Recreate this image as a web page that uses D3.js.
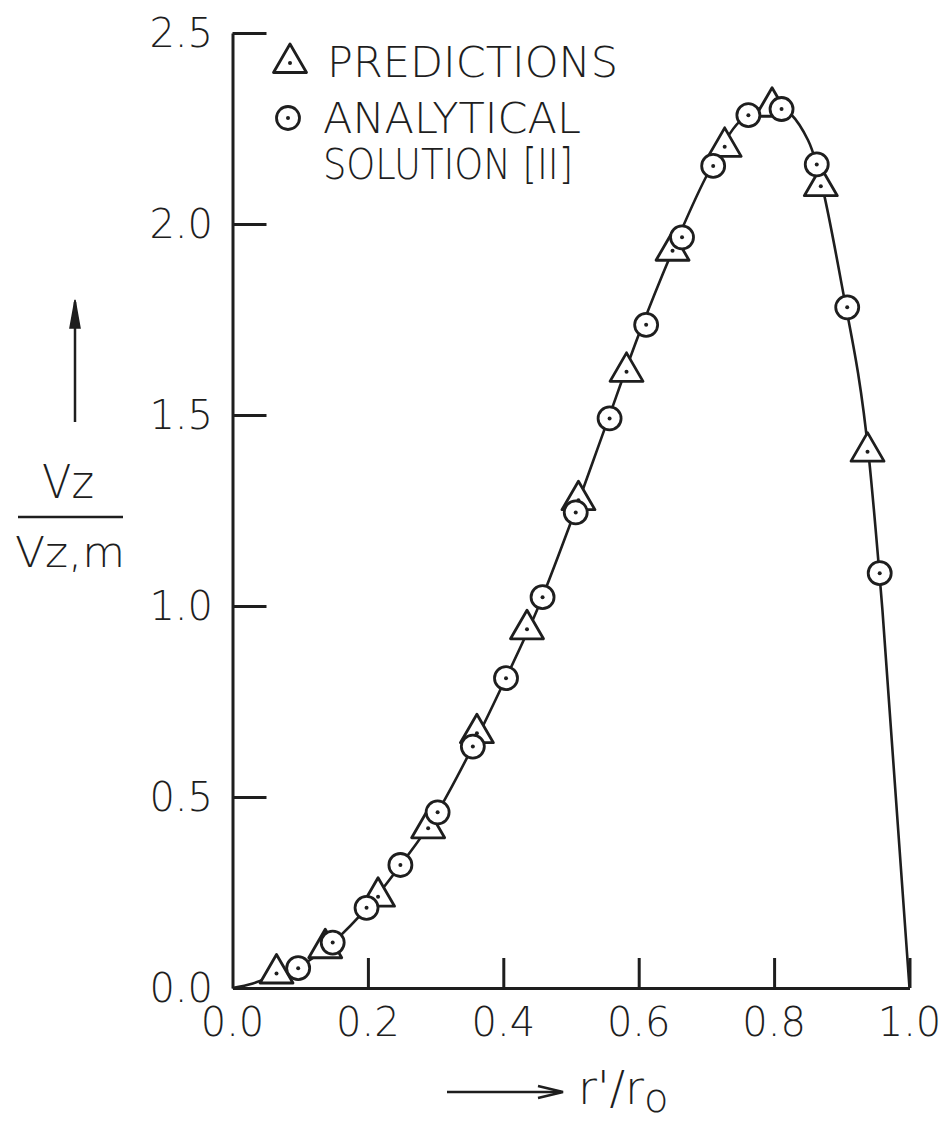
<!DOCTYPE html>
<html>
<head>
<meta charset="utf-8">
<script src="https://cdn.jsdelivr.net/npm/d3@7"></script>
<style>
  body { margin: 0; background: #fff; }
  text { font-family: "DejaVu Sans", sans-serif; font-weight: 200; fill: #1e1e1e; }
</style>
</head>
<body>
<div class="vis-chart"></div>
<script>
// values
const predX = [0.065, 0.137, 0.215, 0.289, 0.361, 0.435, 0.511, 0.582, 0.650, 0.727, 0.797, 0.869, 0.938];
const predY = [0.038, 0.104, 0.239, 0.418, 0.667, 0.939, 1.277, 1.613, 1.930, 2.202, 2.307, 2.099, 1.404];

const anaX = [0.097, 0.148, 0.198, 0.248, 0.303, 0.355, 0.404, 0.458, 0.507, 0.557, 0.611, 0.664, 0.710, 0.762, 0.811, 0.863, 0.908, 0.956];
const anaY = [0.052, 0.119, 0.210, 0.322, 0.460, 0.632, 0.811, 1.023, 1.245, 1.491, 1.736, 1.965, 2.152, 2.285, 2.301, 2.156, 1.782, 1.086];

// the drawn curve
const curveX = [0, 0.03, 0.065, 0.10, 0.15, 0.20, 0.25, 0.30, 0.35, 0.40, 0.45, 0.50, 0.55, 0.60, 0.65, 0.70, 0.75, 0.80, 0.85, 0.90, 0.94, 0.96, 1.0];
const curveY = [0, 0.012, 0.036, 0.058, 0.122, 0.213, 0.326, 0.452, 0.615, 0.797, 0.99, 1.22, 1.465, 1.71, 1.93, 2.125, 2.27, 2.31, 2.22, 1.84, 1.39, 0.99, 0];

const xTicks = [0.2, 0.4, 0.6, 0.8, 1.0];
const xTickLabels = ["0.0", "0.2", "0.4", "0.6", "0.8", "1.0"];
const yTicks = [0.5, 1.0, 1.5, 2.0, 2.5];
const yTickLabels = ["0.0", "0.5", "1.0", "1.5", "2.0", "2.5"];

const W = 946, H = 1124;
const ink = "#1e1e1e";

const x = d3.scaleLinear().domain([0, 1]).range([232.5, 909.5]);
const y = d3.scaleLinear().domain([0, 2.5]).range([988, 33]);

const svg = d3.select(".vis-chart").append("svg")
    .attr("width", W)
    .attr("height", H);

// axes
svg.append("g")
    .attr("transform", "translate(" + x(0) + ",0)")
    .call(d3.axisRight(y).tickValues(yTicks).tickSize(34).tickSizeOuter(0).tickFormat(""));
svg.append("g")
    .attr("transform", "translate(0," + y(0) + ")")
    .call(d3.axisTop(x).tickValues(xTicks).tickSize(30).tickSizeOuter(0).tickFormat(""));
svg.selectAll(".domain, .tick line")
    .attr("stroke", ink)
    .attr("stroke-width", 3);

// tick labels
svg.append("g").selectAll("text")
    .data(yTickLabels)
    .enter().append("text")
    .attr("x", 213)
    .attr("y", function(d) { return y(+d); })
    .attr("dy", "0.36em")
    .attr("text-anchor", "end")
    .attr("font-size", 40)
    .text(function(d) { return d; });

svg.append("g").selectAll("text")
    .data(xTickLabels)
    .enter().append("text")
    .attr("x", function(d) { return x(+d); })
    .attr("y", 1036)
    .attr("text-anchor", "middle")
    .attr("font-size", 40)
    .text(function(d) { return d; });

// curve
const line = d3.line()
    .x(function(d) { return x(d[0]); })
    .y(function(d) { return y(d[1]); })
    .curve(d3.curveMonotoneX);

svg.append("path")
    .datum(d3.zip(curveX, curveY))
    .attr("d", line)
    .attr("fill", "none")
    .attr("stroke", ink)
    .attr("stroke-width", 2.6);

// markers
function triangle(g) {
  g.append("path")
    .attr("d", "M0,-19L16.5,9.5L-16.5,9.5Z")
    .attr("fill", "#fff")
    .attr("stroke", ink)
    .attr("stroke-width", 2.8)
    .attr("stroke-linejoin", "round");
  g.append("circle").attr("r", 2).attr("fill", ink);
}
function ring(g) {
  g.append("circle")
    .attr("r", 11.5)
    .attr("fill", "#fff")
    .attr("stroke", ink)
    .attr("stroke-width", 2.8);
  g.append("circle").attr("r", 2).attr("fill", ink);
}

svg.append("g").selectAll("g")
    .data(d3.zip(predX, predY))
    .enter().append("g")
    .attr("transform", function(d) { return "translate(" + x(d[0]) + "," + y(d[1]) + ")"; })
    .each(function() { triangle(d3.select(this)); });

svg.append("g").selectAll("g")
    .data(d3.zip(anaX, anaY))
    .enter().append("g")
    .attr("transform", function(d) { return "translate(" + x(d[0]) + "," + y(d[1]) + ")"; })
    .each(function() { ring(d3.select(this)); });

// legend
const legend = svg.append("g");
triangle(legend.append("g").attr("transform", "translate(290,63)"));
ring(legend.append("g").attr("transform", "translate(288,118)"));
legend.append("text").attr("x", 327).attr("y", 77).attr("font-size", 43)
    .attr("textLength", 291).attr("lengthAdjust", "spacingAndGlyphs").text("PREDICTIONS");
legend.append("text").attr("x", 323).attr("y", 133).attr("font-size", 43)
    .attr("textLength", 258).attr("lengthAdjust", "spacingAndGlyphs").text("ANALYTICAL");
legend.append("text").attr("x", 323).attr("y", 179).attr("font-size", 43)
    .attr("textLength", 250).attr("lengthAdjust", "spacingAndGlyphs").text("SOLUTION [II]");

// y axis title
svg.append("line")
    .attr("x1", 75).attr("y1", 422).attr("x2", 75).attr("y2", 302)
    .attr("stroke", ink).attr("stroke-width", 2.5);
svg.append("path")
    .attr("d", "M70,328L75,300L80,328Z")
    .attr("fill", ink).attr("stroke", ink).attr("stroke-width", 1.5);
svg.append("text").attr("x", 68).attr("y", 498).attr("text-anchor", "middle")
    .attr("font-size", 46).attr("textLength", 52).attr("lengthAdjust", "spacingAndGlyphs").text("Vz");
svg.append("line")
    .attr("x1", 18).attr("y1", 517).attr("x2", 123).attr("y2", 517)
    .attr("stroke", ink).attr("stroke-width", 2.5);
svg.append("text").attr("x", 70).attr("y", 567).attr("text-anchor", "middle")
    .attr("font-size", 42).attr("textLength", 110).attr("lengthAdjust", "spacingAndGlyphs").text("Vz,m");

// x axis title
svg.append("line")
    .attr("x1", 447).attr("y1", 1092).attr("x2", 561).attr("y2", 1092)
    .attr("stroke", ink).attr("stroke-width", 2.5);
svg.append("path")
    .attr("d", "M538,1086L563,1092L538,1098")
    .attr("fill", "none").attr("stroke", ink).attr("stroke-width", 2.5);
const xt = svg.append("text").attr("x", 578).attr("y", 1104).attr("font-size", 46);
xt.append("tspan").text("r'/r");
xt.append("tspan").attr("font-size", 40).attr("dy", 8).text("o");
</script>
</body>
</html>
